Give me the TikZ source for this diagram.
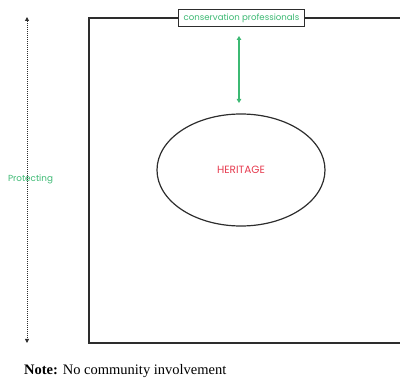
\documentclass[tikz,border=0pt]{standalone}
\usepackage{fontspec}
\setmainfont{Liberation Serif}
\setsansfont{Poppins}
\usetikzlibrary{arrows.meta,shapes.geometric}
\definecolor{cgreen}{RGB}{60,185,115}
\definecolor{cred}{RGB}{230,60,80}
\definecolor{edge}{RGB}{45,45,45}
\tikzset{
  frame/.style={draw=edge, line width=1.3pt},
  labelbox/.style={draw=edge, line width=1.3pt, fill=white, inner sep=2pt,
    minimum width=126pt, minimum height=17pt, font=\sffamily\fontsize{8.6}{9}\selectfont, text=cgreen},
  link/.style={draw=cgreen, line width=1.1pt, {Triangle[length=4pt,width=4.5pt]}-{Triangle[length=4pt,width=4.5pt]}},
  span/.style={draw=edge, line width=0.9pt, dash pattern=on 1pt off 1pt, {Triangle[length=4pt,width=4pt]}-{Triangle[length=4pt,width=4pt]}}
}
\begin{document}
\begin{tikzpicture}[x=1pt,y=-1pt]
  \useasboundingbox (0,0) rectangle (400,382);
  % outer frame, open past the right edge
  \draw[frame] (405,18) -- (89,18) -- (89,343) -- (405,343);
  % heritage ellipse
  \node[draw=edge, line width=1.2pt, ellipse, minimum width=168pt, minimum height=112pt,
        font=\sffamily\fontsize{10.5}{11}\selectfont, text=cred] (heritage) at (241,170) {HERITAGE};
  % professionals box on the top edge
  \node[labelbox] (prof) at (241.5,18) {conservation professionals};
  \coordinate (armtop) at (239,36);
  \coordinate (armbot) at (239,103);
  \draw[link] (armtop) -- (armbot);
  % vertical span on the left
  \coordinate (spantop) at (27,17);
  \coordinate (spanbot) at (27,343);
  \draw[span] (spantop) -- (spanbot);
  \node[font=\sffamily\fontsize{8.8}{9}\selectfont, text=cgreen] (protect) at (30.5,179) {Protecting};
  % caption
  \node[anchor=west, font=\fontsize{14.5}{16}\selectfont, inner sep=0pt] (note) at (24,371)
    {\textbf{Note:} No community involvement};
\end{tikzpicture}
\end{document}
